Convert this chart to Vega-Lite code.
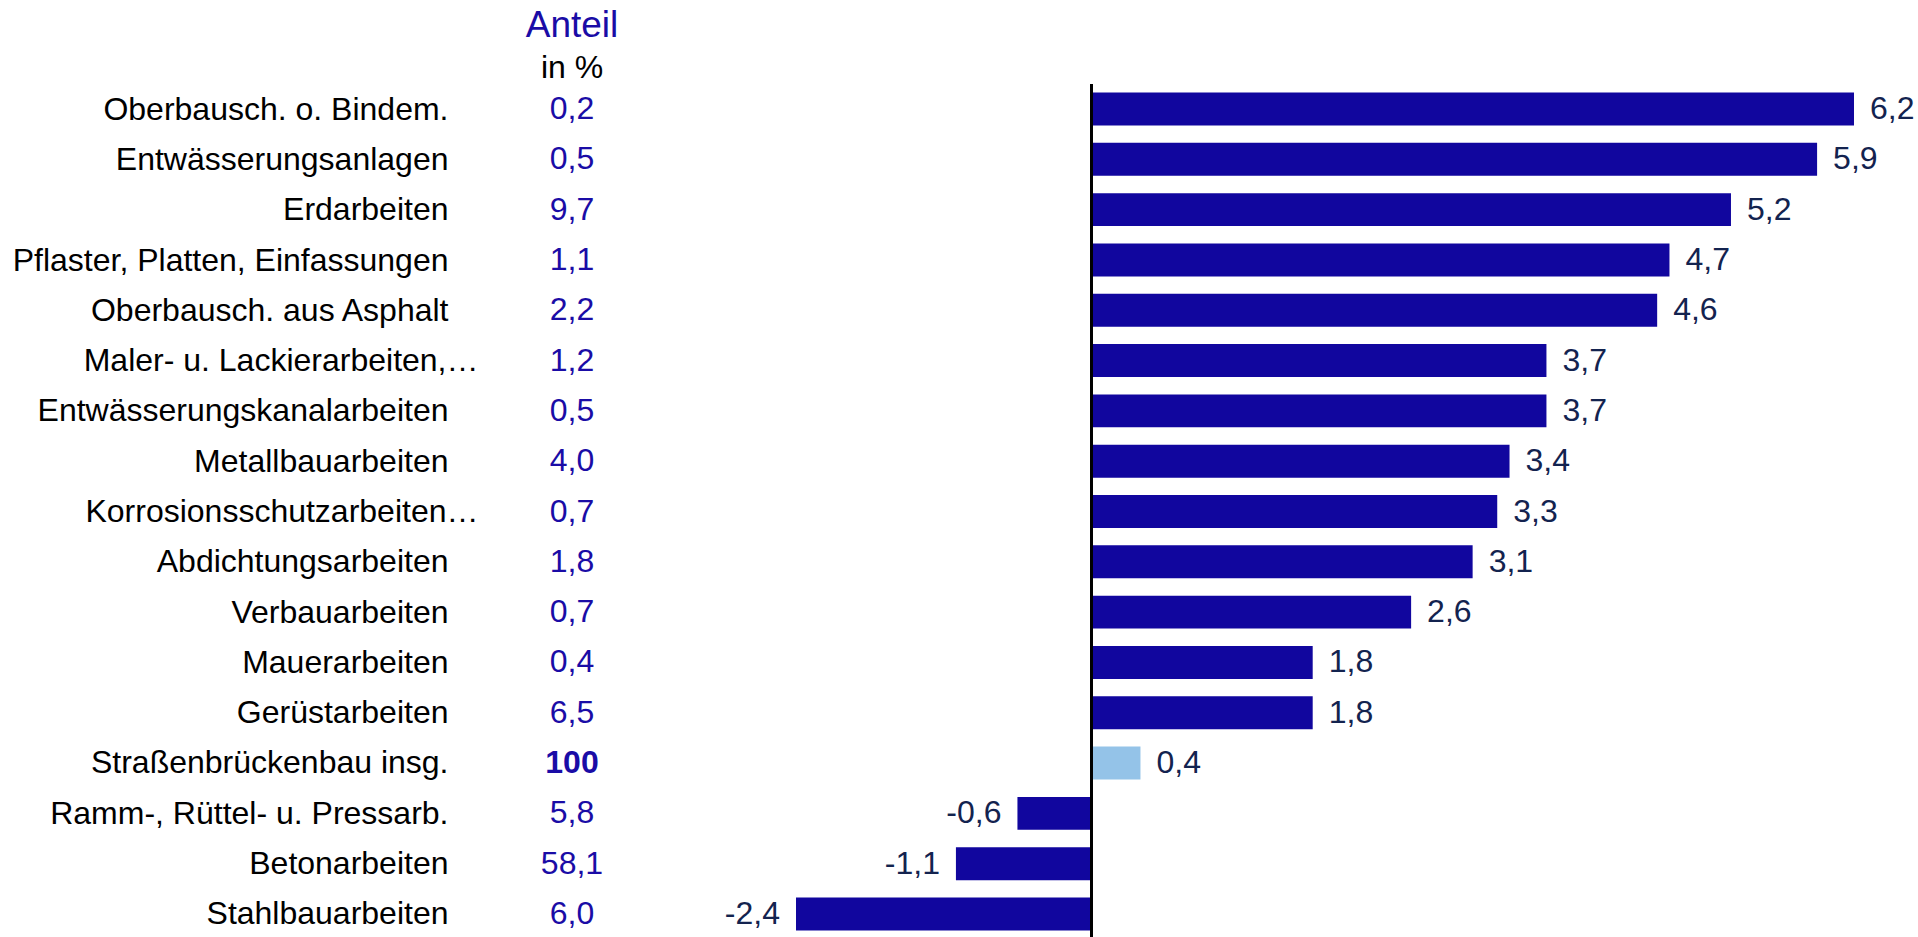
{
  "$schema": "https://vega.github.io/schema/vega-lite/v6.json",
  "autosize": {"type": "pad"},
  "padding": {"left": 12, "top": 7, "right": 5, "bottom": 0},
  "background": "white",
  "bounds": "flush",
  "spacing": 184,
  "data": {
    "values": [
      {"label": "Oberbausch. o. Bindem.", "anteil": 0.2, "change": 6.2, "typ": "Gewerk"},
      {"label": "Entwässerungsanlagen", "anteil": 0.5, "change": 5.9, "typ": "Gewerk"},
      {"label": "Erdarbeiten", "anteil": 9.7, "change": 5.2, "typ": "Gewerk"},
      {"label": "Pflaster, Platten, Einfassungen", "anteil": 1.1, "change": 4.7, "typ": "Gewerk"},
      {"label": "Oberbausch. aus Asphalt", "anteil": 2.2, "change": 4.6, "typ": "Gewerk"},
      {"label": "Maler- u. Lackierarbeiten,…", "anteil": 1.2, "change": 3.7, "typ": "Gewerk"},
      {"label": "Entwässerungskanalarbeiten", "anteil": 0.5, "change": 3.7, "typ": "Gewerk"},
      {"label": "Metallbauarbeiten", "anteil": 4.0, "change": 3.4, "typ": "Gewerk"},
      {"label": "Korrosionsschutzarbeiten…", "anteil": 0.7, "change": 3.3, "typ": "Gewerk"},
      {"label": "Abdichtungsarbeiten", "anteil": 1.8, "change": 3.1, "typ": "Gewerk"},
      {"label": "Verbauarbeiten", "anteil": 0.7, "change": 2.6, "typ": "Gewerk"},
      {"label": "Mauerarbeiten", "anteil": 0.4, "change": 1.8, "typ": "Gewerk"},
      {"label": "Gerüstarbeiten", "anteil": 6.5, "change": 1.8, "typ": "Gewerk"},
      {"label": "Straßenbrückenbau insg.", "anteil": 100, "change": 0.4, "typ": "Insgesamt"},
      {"label": "Ramm-, Rüttel- u. Pressarb.", "anteil": 5.8, "change": -0.6, "typ": "Gewerk"},
      {"label": "Betonarbeiten", "anteil": 58.1, "change": -1.1, "typ": "Gewerk"},
      {"label": "Stahlbauarbeiten", "anteil": 6.0, "change": -2.4, "typ": "Gewerk"}
    ]
  },
  "hconcat": [
    {
      "width": 80,
      "height": 855,
      "title": {
        "text": "Anteil",
        "subtitle": "in %",
        "font": "Liberation Sans",
        "subtitleFont": "Liberation Sans",
        "fontSize": 37,
        "fontWeight": "normal",
        "color": "#1a0ca6",
        "subtitleFontSize": 32,
        "subtitleColor": "#000000",
        "subtitlePadding": 8,
        "anchor": "middle",
        "offset": -1
      },
      "layer": [
        {
          "mark": {"type": "text", "font": "Liberation Sans", "fontSize": 32, "color": "#1a0ca6", "baseline": "middle", "align": "center"},
          "encoding": {
            "y": {
              "field": "label", "type": "nominal", "sort": null,
              "scale": {"paddingInner": 0.345, "paddingOuter": 0.17},
              "axis": {
                "title": null, "domain": false, "ticks": false, "tickSize": 0,
                "labelFont": "Liberation Sans", "labelFontSize": 32, "labelColor": "#000000",
                "labelPadding": {"condition": {"test": "indexof(datum.label, '…') >= 0", "value": 54}, "value": 84},
                "labelLimit": 1000
              }
            },
            "text": {"field": "anteil", "type": "quantitative", "format": ".1f",
              "condition": {"test": "datum.typ == 'Insgesamt'", "value": ""}}
          }
        },
        {
          "mark": {"type": "text", "font": "Liberation Sans", "fontSize": 32, "fontWeight": "bold", "color": "#1a0ca6", "baseline": "middle", "align": "center"},
          "encoding": {
            "y": {"field": "label", "type": "nominal", "sort": null},
            "text": {"field": "anteil", "type": "quantitative", "format": "d",
              "condition": {"test": "datum.typ != 'Insgesamt'", "value": ""}}
          }
        }
      ]
    },
    {
      "width": 1058,
      "height": 855,
      "layer": [
        {
          "mark": {"type": "bar"},
          "encoding": {
            "y": {"field": "label", "type": "nominal", "sort": null,
              "scale": {"paddingInner": 0.345, "paddingOuter": 0.17}, "axis": null},
            "x": {"field": "change", "type": "quantitative",
              "scale": {"domain": [-2.4, 6.2], "nice": false, "zero": false}, "axis": null},
            "color": {"field": "typ", "type": "nominal",
              "scale": {"domain": ["Gewerk", "Insgesamt"], "range": ["#11069e", "#94c3e8"]}, "legend": null}
          }
        },
        {
          "mark": {"type": "rule", "color": "#000000", "strokeWidth": 2},
          "encoding": {"x": {"datum": 0}}
        },
        {
          "mark": {"type": "text", "font": "Liberation Sans", "fontSize": 32, "color": "#13234f", "align": "left", "baseline": "middle", "dx": 16},
          "encoding": {
            "y": {"field": "label", "type": "nominal", "sort": null},
            "x": {"field": "change", "type": "quantitative"},
            "text": {"field": "change", "type": "quantitative", "format": ".1f",
              "condition": {"test": "datum.change < 0", "value": ""}}
          }
        },
        {
          "mark": {"type": "text", "font": "Liberation Sans", "fontSize": 32, "color": "#13234f", "align": "right", "baseline": "middle", "dx": -16},
          "encoding": {
            "y": {"field": "label", "type": "nominal", "sort": null},
            "x": {"field": "change", "type": "quantitative"},
            "text": {"field": "change", "type": "quantitative", "format": ".1f",
              "condition": {"test": "datum.change >= 0", "value": ""}}
          }
        }
      ]
    }
  ],
  "config": {
    "view": {"stroke": null},
    "locale": {
      "number": {"decimal": ",", "thousands": ".", "grouping": [3], "currency": ["", " €"], "minus": "-"}
    }
  }
}
